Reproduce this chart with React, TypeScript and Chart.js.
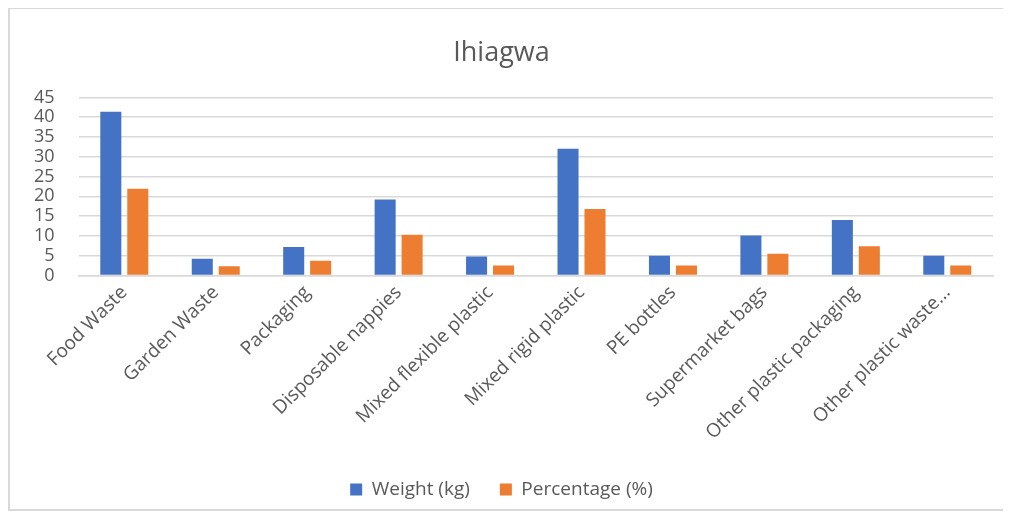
import React, { useEffect, useRef } from "react";
import { Chart, registerables } from "chart.js";

Chart.register(...registerables);

const categories = [
  "Food Waste",
  "Garden Waste",
  "Packaging",
  "Disposable nappies",
  "Mixed flexible plastic",
  "Mixed rigid plastic",
  "PE bottles",
  "Supermarket bags",
  "Other plastic packaging",
  "Other plastic waste...",
];
const weightKg = [41.4, 4.2, 7.2, 19.2, 4.8, 32.0, 5.0, 10.1, 14.0, 5.0];
const percentage = [21.9, 2.3, 3.7, 10.3, 2.5, 16.8, 2.5, 5.5, 7.4, 2.5];
const yTicks = [0, 5, 10, 15, 20, 25, 30, 35, 40, 45];

const FONT = "'Open Sans', sans-serif";

export default function App() {
  const ref = useRef<HTMLCanvasElement | null>(null);
  useEffect(() => {
    if (!ref.current) return;
    const chart = new Chart(ref.current, {
      type: "bar",
      data: {
        labels: categories,
        datasets: [
          {
            label: "Weight (kg)",
            data: weightKg,
            backgroundColor: "#4472C4",
            barPercentage: 0.78,
            categoryPercentage: 0.59,
          },
          {
            label: "Percentage (%)",
            data: percentage,
            backgroundColor: "#ED7D31",
            barPercentage: 0.78,
            categoryPercentage: 0.59,
          },
        ],
      },
      options: {
        animation: false,
        responsive: false,
        layout: { padding: { left: 0, right: 18, bottom: 0, top: 0 } },
        plugins: {
          title: {
            display: true,
            text: "Ihiagwa",
            color: "#595959",
            font: { family: FONT, size: 27, weight: "normal" },
            padding: { top: 28, bottom: 28 },
          },
          legend: {
            position: "bottom",
            labels: {
              color: "#595959",
              font: { family: FONT, size: 19 },
              boxWidth: 12,
              boxHeight: 12,
              padding: 30,
            },
          },
          tooltip: { enabled: false },
        },
        scales: {
          x: {
            grid: { display: false, drawTicks: false },
            border: { color: "#d9d9d9", width: 1.5 },
            ticks: {
              color: "#595959",
              font: { family: FONT, size: 19 },
              maxRotation: 45,
              minRotation: 45,
              padding: 6,
              autoSkip: false,
            },
          },
          y: {
            min: 0,
            max: 45,
            afterBuildTicks: (axis: any) => {
              axis.ticks = yTicks.map((v) => ({ value: v }));
            },
            grid: { color: "#d9d9d9", lineWidth: 1.5, drawTicks: false },
            border: { display: false },
            ticks: {
              color: "#595959",
              font: { family: FONT, size: 18, lineHeight: 1 },
              padding: 24,
              autoSkip: false,
            },
          },
        },
      },
    });
    return () => chart.destroy();
  }, []);
  return (
    <div
      style={{
        borderTop: "1px solid #d9d9d9",
        borderLeft: "2px solid #d9d9d9",
        borderBottom: "2px solid #d9d9d9",
        width: 1003,
        height: 500,
        background: "#fff",
        overflow: "hidden",
      }}
    >
      <canvas ref={ref} width={1001} height={500} />
    </div>
  );
}
